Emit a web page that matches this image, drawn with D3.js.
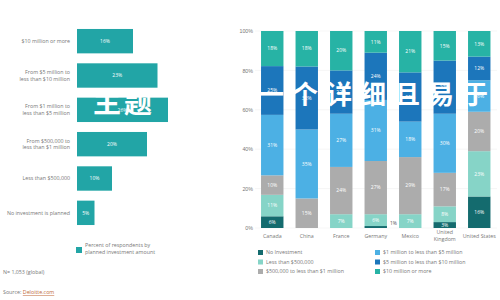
<!DOCTYPE html>
<html>
<head>
<meta charset="utf-8">
<script src="https://cdn.jsdelivr.net/npm/d3@7"></script>
<style>
  body { margin: 0; background: #fff; }
  svg { display: block; font-family: 'Open Sans', sans-serif; }
  .lbl { fill: #777; font-size: 5.3px; }
  .seg { fill: #fff; font-size: 5px; }
</style>
</head>
<body>
<svg id="chart"></svg>
<script>
// LEFT CHART DATA
const amounts = [
  ['$10 million or more'],
  ['From $5 million to', 'less than $10 million'],
  ['From $1 million to', 'less than $5 million'],
  ['From $500,000 to', 'less than $1 million'],
  ['Less than $500,000'],
  ['No investment is planned']
]
const amountShares = [16, 23, 26, 20, 10, 5]

// RIGHT CHART DATA
const countries = ['Canada', 'China', 'France', 'Germany', 'Mexico', 'United Kingdom', 'United States']
const levels = ['No Investment', 'Less than $500,000', '$500,000 to less than $1 million',
  '$1 million to less than $5 million', '$5 million to less than $10 million', '$10 million or more']
const noInvestment = [6, 0, 0, 1, 0, 3, 16]
const lessThan500k = [11, 0, 7, 6, 7, 8, 23]
const from500kTo1m = [10, 15, 24, 27, 29, 17, 20]
const from1mTo5m = [31, 35, 27, 31, 18, 30, 16]
const from5mTo10m = [25, 32, 22, 24, 25, 27, 12]
const tenMillionPlus = [18, 18, 20, 11, 21, 15, 13]
const yTicks = [0, 0.2, 0.4, 0.6, 0.8, 1]

const levelColors = ['#146b6e', '#86d4c7', '#acacac', '#4cb0e4', '#1c76bb', '#27b3a5']

const totalWidth = 500, totalHeight = 300
const svg = d3.select('#chart').attr('width', totalWidth).attr('height', totalHeight)

// ---------- LEFT: HORIZONTAL BARS ----------
const xl = d3.scaleLinear().domain([0, 100]).range([77, 427])
const yl = d3.scaleBand().domain(d3.range(amounts.length)).range([24, 230]).paddingInner(0.29).paddingOuter(0.145)

const left = svg.append('g')
left.selectAll('rect')
  .data(amountShares)
  .enter()
  .append('rect')
    .attr('x', xl(0))
    .attr('y', (d, i) => yl(i))
    .attr('width', d => xl(d) - xl(0))
    .attr('height', yl.bandwidth())
    .attr('fill', '#22a5a6')

left.selectAll('.seg')
  .data(amountShares)
  .enter()
  .append('text')
    .attr('class', 'seg')
    .attr('x', d => (xl(0) + xl(d)) / 2)
    .attr('y', (d, i) => yl(i) + yl.bandwidth() / 2)
    .attr('dy', '0.35em')
    .attr('text-anchor', 'middle')
    .text(d => d + '%')

amounts.forEach((lines, i) => {
  const t = left.append('text')
    .attr('class', 'lbl')
    .attr('text-anchor', 'end')
    .attr('x', 70)
    .attr('y', yl(i) + yl.bandwidth() / 2 - (lines.length - 1) * 3.3)
  lines.forEach((l, j) => t.append('tspan').attr('x', 70).attr('dy', j === 0 ? '0.35em' : '6.6px').text(l))
})

// left legend
left.append('rect').attr('x', 76).attr('y', 247).attr('width', 6).attr('height', 6).attr('fill', '#22a5a6')
left.append('text').attr('class', 'lbl').attr('x', 85).attr('y', 247).text('Percent of respondents by')
left.append('text').attr('class', 'lbl').attr('x', 85).attr('y', 254).text('planned investment amount')

svg.append('text').attr('class', 'lbl').attr('x', 3).attr('y', 274).text('N= 1,053 (global)')
const src = svg.append('text').attr('class', 'lbl').attr('x', 3).attr('y', 294)
src.append('tspan').text('Source: ')
src.append('tspan').attr('fill', '#c0693a').attr('text-decoration', 'underline').text('Deloitte.com')

// ---------- RIGHT: 100% STACKED COLUMNS ----------
const table = countries.map((c, i) => ({
  country: c,
  [levels[0]]: noInvestment[i],
  [levels[1]]: lessThan500k[i],
  [levels[2]]: from500kTo1m[i],
  [levels[3]]: from1mTo5m[i],
  [levels[4]]: from5mTo10m[i],
  [levels[5]]: tenMillionPlus[i]
}))
const series = d3.stack().keys(levels).offset(d3.stackOffsetExpand)(table)

const xr = d3.scaleBand().domain(countries).range([255, 496.5]).paddingInner(0.35).paddingOuter(0.175)
const yr = d3.scaleLinear().domain([0, 1]).range([228, 31])

const right = svg.append('g')

// grid
right.selectAll('.grid')
  .data(yTicks)
  .enter()
  .append('line')
    .attr('x1', 255).attr('x2', 497)
    .attr('y1', d => yr(d)).attr('y2', d => yr(d))
    .attr('stroke', '#ececec').attr('stroke-width', 0.5)

const yAxis = d3.axisLeft(yr).tickValues(yTicks).tickFormat(d3.format('.0%')).tickSize(0).tickPadding(4)
right.append('g')
  .attr('transform', 'translate(257, 0)')
  .call(yAxis)
  .call(g => g.select('.domain').remove())
  .call(g => g.selectAll('text').attr('class', 'lbl').attr('font-family', null).attr('font-size', null))

const groups = right.selectAll('.layer')
  .data(series)
  .enter()
  .append('g')
    .attr('fill', (d, i) => levelColors[i])

groups.selectAll('rect')
  .data(d => d)
  .enter()
  .append('rect')
    .attr('x', d => xr(d.data.country))
    .attr('y', d => yr(d[1]))
    .attr('width', xr.bandwidth())
    .attr('height', d => yr(d[0]) - yr(d[1]))

groups.each(function (s) {
  d3.select(this).selectAll('.seg')
    .data(s)
    .enter()
    .append('text')
      .attr('class', 'seg')
      .attr('text-anchor', d => d.data[s.key] < 2 ? 'start' : 'middle')
      .attr('x', d => d.data[s.key] < 2 ? xr(d.data.country) + xr.bandwidth() + 3 : xr(d.data.country) + xr.bandwidth() / 2)
      .attr('y', d => d.data[s.key] < 2 ? yr(d[1]) - 3 : (yr(d[0]) + yr(d[1])) / 2)
      .attr('dy', '0.35em')
      .style('fill', d => d.data[s.key] < 2 ? '#555' : null)
      .text(d => d.data[s.key] > 0 ? d.data[s.key] + '%' : '')
})

// x labels
countries.forEach(c => {
  const parts = c === 'United Kingdom' ? ['United', 'Kingdom'] : [c]
  const t = right.append('text')
    .attr('class', 'lbl')
    .attr('text-anchor', 'middle')
    .attr('x', xr(c) + xr.bandwidth() / 2)
    .attr('y', parts.length > 1 ? 234 : 238)
  parts.forEach((p, j) => t.append('tspan').attr('x', xr(c) + xr.bandwidth() / 2).attr('dy', j === 0 ? 0 : '7px').text(p))
})

// right legend
levels.forEach((l, i) => {
  const col = Math.floor(i / 3), row = i % 3
  const lx = col === 0 ? 258 : 375, ly = 250 + row * 9.5
  right.append('rect').attr('x', lx).attr('y', ly).attr('width', 5).attr('height', 5).attr('fill', levelColors[i])
  right.append('text').attr('class', 'lbl').attr('x', lx + 8).attr('y', ly + 2.5).attr('dy', '0.35em').text(l)
})

// overlay text
const overlay = svg.append('g')
  .attr('fill', '#fff')
  .attr('font-family', "'Noto Sans CJK SC', sans-serif")
  .attr('font-weight', 700)
overlay.append('text').attr('x', 93).attr('y', 113).attr('font-size', 28).attr('letter-spacing', 3).text('主题')
overlay.append('text').attr('x', 258).attr('y', 104).attr('font-size', 26).attr('letter-spacing', 8).text('一个详细且易于')
</script>
</body>
</html>
